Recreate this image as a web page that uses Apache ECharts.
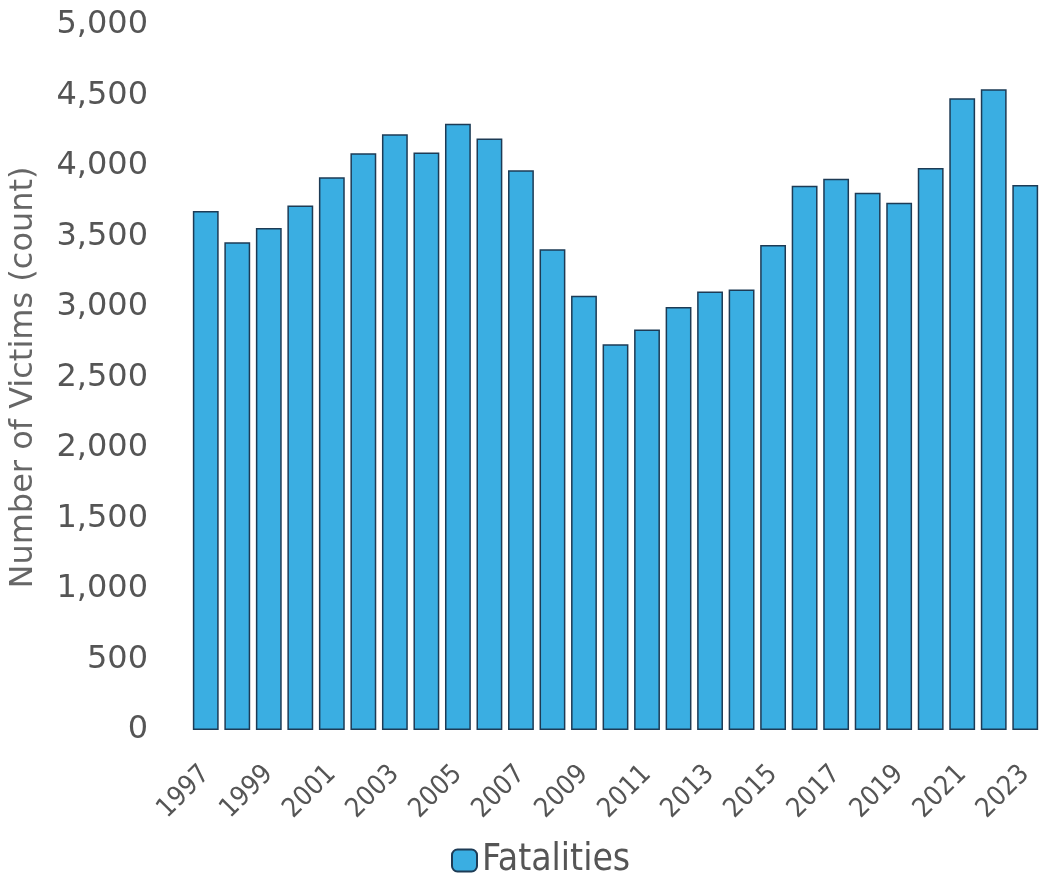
<!DOCTYPE html>
<html><head><meta charset="utf-8">
<script src="https://cdn.jsdelivr.net/npm/echarts@6/dist/echarts.min.js"></script>
<style>html,body{margin:0;padding:0;background:#fff}#c{width:1043px;height:886px}</style>
</head><body><div id="c"></div>
<script>
const years = ['1997','1998','1999','2000','2001','2002','2003','2004','2005','2006','2007','2008','2009','2010','2011','2012','2013','2014','2015','2016','2017','2018','2019','2020','2021','2022','2023'];
const fatalities = [3680,3460,3560,3720,3920,4090,4225,4095,4300,4195,3970,3410,3080,2735,2840,3000,3110,3125,3440,3860,3910,3810,3740,3985,4480,4545,3865];
const seriesName = 'Fatalities';
const yTitle = 'Number of Victims (count)';

const chart = echarts.init(document.getElementById('c'), null, {renderer:'canvas'});
chart.setOption({
  animation:false,
  backgroundColor:'#ffffff',
  grid:{left:186,right:2,top:25,bottom:156,containLabel:false},
  legend:{
    bottom:2,left:446,
    itemWidth:25,itemHeight:22,itemGap:10,
    textStyle:{fontFamily:'DejaVu Sans Condensed, DejaVu Sans',fontSize:37,color:'#555'},
    data:[seriesName]
  },
  xAxis:{
    type:'category',data:years,
    axisLine:{show:false},axisTick:{show:false},
    axisLabel:{interval:1,rotate:45,fontFamily:'DejaVu Sans Condensed, DejaVu Sans',fontSize:27,color:'#555',margin:40}
  },
  yAxis:{
    type:'value',min:0,max:5000,interval:500,
    name:yTitle,nameLocation:'middle',nameGap:150,nameRotate:90,
    nameTextStyle:{fontFamily:'DejaVu Sans',fontSize:32,color:'#666'},
    splitLine:{show:false},axisLine:{show:false},axisTick:{show:false},
    axisLabel:{fontFamily:'DejaVu Sans',fontSize:32,color:'#555',margin:42,
      formatter:v=>v.toLocaleString('en-US')}
  },
  series:[{
    name:seriesName,type:'bar',data:fatalities,
    barCategoryGap:'18%',
    itemStyle:{color:'#3aaee2',borderColor:'#1d3b55',borderWidth:1.5}
  }]
});
</script></body></html>
